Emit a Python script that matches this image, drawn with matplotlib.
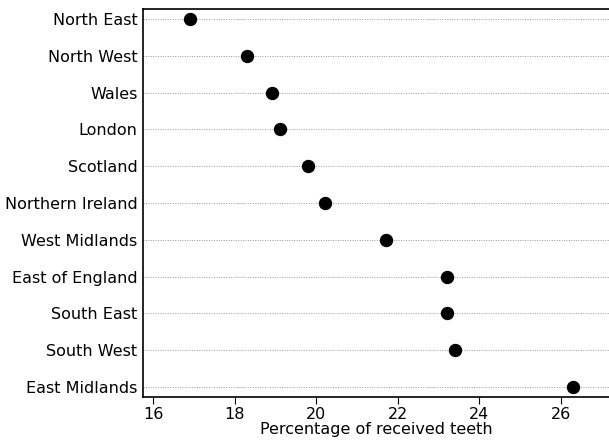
import matplotlib
matplotlib.use("Agg")
import matplotlib.pyplot as plt

regions = ["North East", "North West", "Wales", "London", "Scotland",
           "Northern Ireland", "West Midlands", "East of England",
           "South East", "South West", "East Midlands"]
values = [16.9, 18.3, 18.9, 19.1, 19.8, 20.2, 21.7, 23.2, 23.2, 23.4, 26.3]
xticks = [16, 18, 20, 22, 24, 26]
xlabel = "Percentage of received teeth"

fig = plt.figure(figsize=(6.09, 4.41), dpi=100)
ax = fig.add_axes([143/609, 1 - 397/441, 1 - 143/609, (397 - 9)/441])

ypos = list(range(len(regions)))
for y in ypos:
    ax.axhline(y, color="#999999", linestyle=(0, (1, 1.5)), linewidth=0.7, zorder=1)
ax.plot(values, ypos, "o", color="black", markersize=8.6, zorder=3)

ax.set_yticks(ypos)
ax.set_yticklabels(regions, fontsize=11.5)
ax.set_ylim(len(regions) - 1 + 0.27, -0.27)
ax.set_xticks(xticks)
ax.set_xticklabels([str(t) for t in xticks], fontsize=11.5)
ax.set_xlim(15.745, 27.18)
ax.set_xlabel(xlabel, fontsize=11.5, labelpad=0)
ax.tick_params(axis="y", length=0, pad=4)
ax.tick_params(axis="x", direction="out", length=5, pad=2)
ax.spines["right"].set_visible(False)
for s in ["left", "bottom", "top"]:
    ax.spines[s].set_linewidth(1.2)

fig.savefig("out.png", dpi=100)
